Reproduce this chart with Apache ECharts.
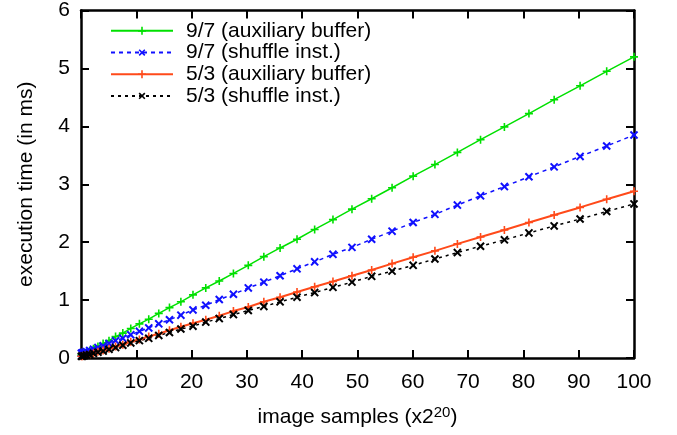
<!DOCTYPE html>
<html>
<head>
<meta charset="utf-8">
<script src="https://cdn.jsdelivr.net/npm/echarts@6/dist/echarts.min.js"></script>
<style>
  html, body { margin: 0; padding: 0; background: #fff; }
  #chart { width: 677px; height: 435px; }
</style>
</head>
<body>
<div id="chart"></div>
<script>
// image samples (x2^20)
var samples = [0.0625, 0.25, 0.5625, 1, 1.5625, 2.25, 3.0625, 4, 5.0625, 6.25,
	7.5625, 9, 10.5625, 12.25, 14.0625, 16, 18.0625, 20.25, 22.5625, 25,
	27.5625, 30.25, 33.0625, 36, 39.0625, 42.25, 45.5625, 49, 52.5625, 56.25,
	60.0625, 64, 68.0625, 72.25, 76.5625, 81, 85.5625, 90.25, 95.0625, 100];

// execution time (ms)
var aux97 = [0.05, 0.06, 0.07, 0.09, 0.12, 0.16, 0.20, 0.25, 0.30, 0.37,
	0.43, 0.51, 0.59, 0.67, 0.77, 0.87, 0.97, 1.09, 1.21, 1.33,
	1.46, 1.60, 1.75, 1.90, 2.05, 2.22, 2.39, 2.57, 2.75, 2.94,
	3.14, 3.34, 3.55, 3.77, 3.99, 4.22, 4.46, 4.70, 4.95, 5.20];
var shuf97 = [0.08, 0.09, 0.10, 0.11, 0.13, 0.15, 0.18, 0.21, 0.25, 0.30,
	0.34, 0.40, 0.46, 0.52, 0.59, 0.66, 0.74, 0.83, 0.91, 1.01,
	1.10, 1.21, 1.31, 1.42, 1.54, 1.66, 1.79, 1.91, 2.05, 2.19,
	2.34, 2.48, 2.64, 2.80, 2.96, 3.13, 3.30, 3.48, 3.66, 3.85];
var aux53 = [0.03, 0.03, 0.04, 0.05, 0.06, 0.08, 0.11, 0.13, 0.16, 0.20,
	0.23, 0.28, 0.32, 0.37, 0.42, 0.48, 0.54, 0.60, 0.66, 0.73,
	0.81, 0.88, 0.97, 1.05, 1.14, 1.23, 1.32, 1.42, 1.52, 1.63,
	1.74, 1.85, 1.97, 2.09, 2.21, 2.34, 2.47, 2.60, 2.74, 2.88];
var shuf53 = [0.03, 0.03, 0.04, 0.05, 0.06, 0.08, 0.10, 0.12, 0.15, 0.18,
	0.22, 0.26, 0.30, 0.34, 0.39, 0.44, 0.50, 0.55, 0.62, 0.68,
	0.75, 0.82, 0.89, 0.97, 1.05, 1.13, 1.22, 1.31, 1.41, 1.50,
	1.60, 1.71, 1.82, 1.93, 2.04, 2.16, 2.28, 2.40, 2.53, 2.66];

var names = ['9/7 (auxiliary buffer)', '9/7 (shuffle inst.)', '5/3 (auxiliary buffer)', '5/3 (shuffle inst.)'];

var FONT = '"Liberation Sans", Arial, Helvetica, sans-serif';
var PLUS = 'path://M4,0H6V4H10V6H6V10H4V6H0V4H4Z';

function pairs(ys) {
	var out = [];
	for (var i = 0; i < samples.length; i++) {
		out.push([samples[i], ys[i]]);
	}
	return out;
}

function makeSeries(name, ys, color, dash, size, rotate, width) {
	return {
		name: name,
		type: 'line',
		data: pairs(ys),
		symbol: PLUS,
		symbolSize: size,
		symbolRotate: rotate,
		showAllSymbol: true,
		animation: false,
		lineStyle: { color: color, width: width, type: dash },
		itemStyle: { color: color, borderWidth: 0 }
	};
}

var axisLine = { show: true, onZero: false, lineStyle: { color: '#000', width: 2.5 } };
var tick = { show: true, inside: true, length: 8, lineStyle: { color: '#000', width: 2 } };

var option = {
	backgroundColor: '#fff',
	textStyle: { fontFamily: FONT },
	grid: { left: 81, right: 43, top: 8, bottom: 77 },
	legend: {
		orient: 'vertical',
		left: 105,
		top: 15,
		itemWidth: 62,
		itemHeight: 10,
		itemGap: 0,
		data: names,
		textStyle: { fontFamily: FONT, fontSize: 21, color: '#000', lineHeight: 21.7, padding: [0, 0, 0, 8] }
	},
	xAxis: [{
		type: 'value', position: 'bottom', min: 0, max: 100, interval: 10,
		axisLine: axisLine, axisTick: tick, splitLine: { show: false },
		axisLabel: {
			fontFamily: FONT, fontSize: 21, color: '#000', margin: 14,
			formatter: function (v) { return v === 0 ? '' : v; }
		},
		name: 'image samples (x2{sup|20})',
		nameLocation: 'middle',
		nameGap: 47,
		nameTextStyle: {
			fontFamily: FONT, fontSize: 21, color: '#000',
			rich: { sup: { fontFamily: FONT, fontSize: 15, color: '#000', verticalAlign: 'top', padding: [0, 0, 10, 0] } }
		}
	}, {
		type: 'value', position: 'top', min: 0, max: 100, interval: 10,
		axisLine: axisLine, axisTick: tick, splitLine: { show: false },
		axisLabel: { show: false }
	}],
	yAxis: [{
		type: 'value', position: 'left', min: 0, max: 6, interval: 1,
		axisLine: axisLine, axisTick: tick, splitLine: { show: false },
		axisLabel: { fontFamily: FONT, fontSize: 21, color: '#000', margin: 11 },
		name: 'execution time (in ms)',
		nameLocation: 'middle',
		nameGap: 44,
		nameTextStyle: { fontFamily: FONT, fontSize: 21, color: '#000' }
	}, {
		type: 'value', position: 'right', min: 0, max: 6, interval: 1,
		axisLine: axisLine, axisTick: tick, splitLine: { show: false },
		axisLabel: { show: false }
	}],
	series: [
		makeSeries(names[0], aux97, '#00e000', 'solid', 8, 0, 1.5),
		makeSeries(names[1], shuf97, '#1010ff', [4, 4], 10, 45, 1.5),
		makeSeries(names[2], aux53, '#ff4a1a', 'solid', 8, 0, 2),
		makeSeries(names[3], shuf53, '#000000', [3, 4], 10, 45, 1.5)
	]
};

var chart = echarts.init(document.getElementById('chart'), null, { renderer: 'canvas' });
chart.setOption(option);
</script>
</body>
</html>
